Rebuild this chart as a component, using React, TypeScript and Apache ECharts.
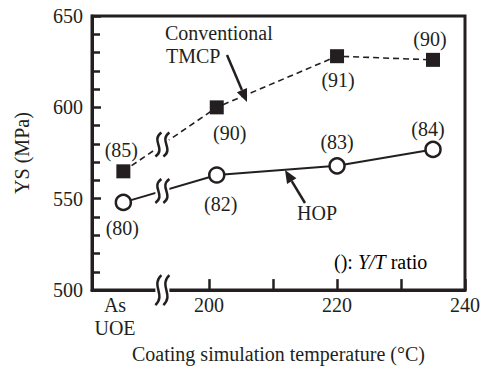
import React, { useEffect, useRef } from "react";
import * as echarts from "echarts";

// x positions (°C scale; the first one is the "As UOE" slot before the break)
const xPositions = [186.6, 201.2, 220, 235];
const hopYS = [548, 563, 568, 577];
const hopRatio = [80, 82, 83, 84];
const tmcpYS = [565, 600, 628, 626];
const tmcpRatio = [85, 90, 91, 90];
const xTickValues = [200, 210, 220, 230, 240];
const xLabelValues = [185.3, 200, 220, 240];
const asUoeLabel = "As\nUOE";
const breakX = 192.7;
const xMin = 181.7;
const xMax = 240;
const yMin = 500;
const yMax = 650;

// label placement (style)
const hopLabelPos = ["bottom", "bottom", "top", "top"];
const hopLabelDist = [7, 10, 5, 2];
const hopLabelDx = [-1, 4, 0, -5];
const tmcpLabelPos = ["top", "bottom", "bottom", "top"];
const tmcpLabelDist = [4.5, 8.5, 6.5, 3.5];
const tmcpLabelDx = [-2, 13, 1, -3];

const FONT = "Liberation Serif";
const FS = 20;
const INK = "#231f20";

function arrow(x1: number, y1: number, x2: number, y2: number) {
  const dx = x2 - x1;
  const dy = y2 - y1;
  const len = Math.sqrt(dx * dx + dy * dy);
  const ux = dx / len;
  const uy = dy / len;
  const hl = 13;
  const hw = 5.5;
  const bx = x2 - ux * hl;
  const by = y2 - uy * hl;
  return [
    { type: "line", shape: { x1, y1, x2: bx, y2: by }, style: { stroke: INK, lineWidth: 2.5 }, z: 100 },
    {
      type: "polygon",
      shape: { points: [[x2, y2], [bx - uy * hw, by + ux * hw], [bx + uy * hw, by - ux * hw]] },
      style: { fill: INK },
      z: 100,
    },
  ];
}

function breakChildren(x: number, y: number, h: number, gapH: number) {
  const els: any[] = [
    { type: "rect", shape: { x: x - 7, y: y - gapH / 2, width: 14, height: gapH }, style: { fill: "#fff" } },
  ];
  [-4, 4].forEach((o) => {
    const cx = x + o;
    els.push({
      type: "bezierCurve",
      shape: {
        x1: cx + 3, y1: y - h,
        cpx1: cx - 8, cpy1: y - h * 0.3,
        cpx2: cx + 8, cpy2: y + h * 0.3,
        x2: cx - 3, y2: y + h,
      },
      style: { stroke: INK, lineWidth: 2.5, fill: "none" },
    });
  });
  return els;
}

function makeData(ys: number[], ratios: number[], pos: string[], dist: number[], dxs: number[]) {
  return ys.map((v, i) => ({
    value: [xPositions[i], v],
    label: { show: true, position: pos[i], distance: dist[i], offset: [dxs[i], 0], formatter: "(" + ratios[i] + ")" },
  }));
}

const interp = (ys: number[]) =>
  ys[0] + ((ys[1] - ys[0]) * (breakX - xPositions[0])) / (xPositions[1] - xPositions[0]);

function buildOption() {
  const labelStyle = { fontFamily: FONT, fontSize: FS, color: INK };
  const txt = (text: string, x: number, y: number) => ({
    type: "text",
    x,
    y,
    style: { text, fontFamily: FONT, fontSize: FS, fill: INK, verticalAlign: "middle" },
    z: 100,
  });
  return {
    animation: false,
    grid: { left: 92, right: 19, top: 16, bottom: 77, show: true, borderColor: INK, borderWidth: 3 },
    xAxis: {
      type: "value",
      min: xMin,
      max: xMax,
      name: "Coating simulation temperature (°C)",
      nameLocation: "middle",
      nameGap: 51,
      nameTextStyle: { fontFamily: FONT, fontSize: FS, color: INK },
      axisLine: { show: true, lineStyle: { color: INK, width: 3 } },
      axisTick: { show: true, inside: true, length: 11, lineStyle: { color: INK, width: 2.5 }, customValues: xTickValues },
      axisLabel: {
        show: true,
        margin: 3,
        lineHeight: 23,
        fontFamily: FONT,
        fontSize: FS,
        color: INK,
        customValues: xLabelValues,
        showMinLabel: true,
        showMaxLabel: true,
        formatter: (v: number) => (v < 190 ? asUoeLabel : String(v)),
      },
      splitLine: { show: false },
    },
    yAxis: {
      type: "value",
      min: yMin,
      max: yMax,
      interval: 50,
      name: "YS (MPa)",
      nameLocation: "middle",
      nameGap: 60,
      nameTextStyle: { fontFamily: FONT, fontSize: FS, color: INK },
      axisLine: { show: true, lineStyle: { color: INK, width: 3 } },
      axisTick: { show: true, inside: true, length: 9, lineStyle: { color: INK, width: 2.5 } },
      minorTick: { show: true, splitNumber: 5, length: 8, lineStyle: { color: INK, width: 2.5 } },
      axisLabel: { margin: 9, fontFamily: FONT, fontSize: FS, color: INK },
      splitLine: { show: false },
    },
    series: [
      {
        name: "Conventional TMCP",
        type: "line",
        data: makeData(tmcpYS, tmcpRatio, tmcpLabelPos, tmcpLabelDist, tmcpLabelDx),
        symbol: "rect",
        symbolSize: 14,
        itemStyle: { color: INK },
        lineStyle: { color: INK, width: 1.6, type: [6, 4] },
        label: labelStyle,
        z: 3,
      },
      {
        name: "HOP",
        type: "line",
        data: makeData(hopYS, hopRatio, hopLabelPos, hopLabelDist, hopLabelDx),
        symbol: "circle",
        symbolSize: 15,
        itemStyle: { color: "#fff", borderColor: INK, borderWidth: 2.5 },
        lineStyle: { color: INK, width: 2 },
        label: labelStyle,
        z: 3,
      },
      {
        name: "breaks",
        type: "custom",
        silent: true,
        clip: false,
        z: 4,
        data: [
          [breakX, yMin],
          [breakX, interp(tmcpYS)],
          [breakX, interp(hopYS)],
        ],
        renderItem: (params: any, api: any) => {
          const p = api.coord([api.value(0), api.value(1)]);
          const isAxis = params.dataIndex === 0;
          return {
            type: "group",
            children: breakChildren(p[0], p[1], isAxis ? 15 : 12, isAxis ? 6 : 10),
          };
        },
      },
    ],
    graphic: [
      txt("Conventional", 165, 33),
      txt("TMCP", 166, 56),
      ...arrow(227, 55, 247, 102),
      txt("HOP", 297, 213),
      ...arrow(305, 203, 285, 170),
      {
        type: "text",
        x: 334,
        y: 262,
        style: {
          text: "{n|(): }{i|Y/T}{n| ratio}",
          verticalAlign: "middle",
          rich: {
            n: { fontFamily: FONT, fontSize: FS, color: INK },
            i: { fontFamily: FONT, fontSize: FS, fontStyle: "italic", color: INK },
          },
        },
        z: 100,
      },
    ],
  };
}

export default function App() {
  const ref = useRef<HTMLDivElement>(null);
  useEffect(() => {
    document.body.style.margin = "0";
    if (!ref.current) return;
    const chart = echarts.init(ref.current, null, { renderer: "svg" });
    chart.setOption(buildOption() as any);
    return () => chart.dispose();
  }, []);
  return <div ref={ref} style={{ width: 484, height: 369 }} />;
}
